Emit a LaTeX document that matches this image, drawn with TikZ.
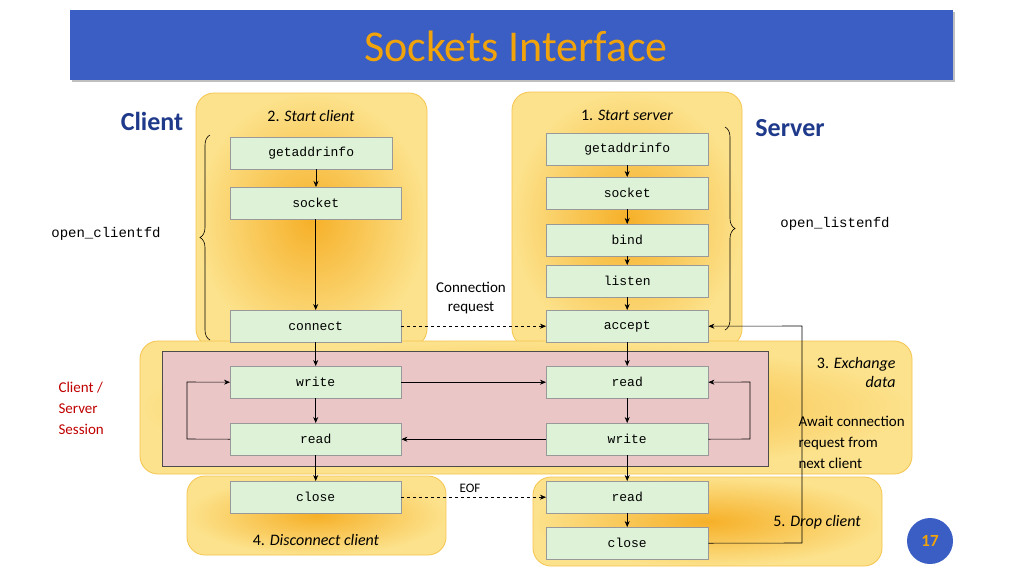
\documentclass[tikz,border=0pt]{standalone}
\usepackage{fontspec}
\setmainfont{Carlito}
\newfontfamily\monof{Liberation Mono}
\usetikzlibrary{decorations.pathreplacing,arrows.meta}
\definecolor{tbar}{HTML}{3A5EC4}
\definecolor{ttl}{HTML}{F0A30A}
\definecolor{cblue}{HTML}{1F3A8A}
\definecolor{boxg}{HTML}{DDF2D6}
\definecolor{pinkf}{HTML}{EBC6C6}
\definecolor{regb}{HTML}{F5C44E}
\definecolor{redt}{HTML}{C00000}
\tikzset{
 region/.style={rounded corners=18pt,draw=regb,line width=0.8pt,inner color={rgb,255:red,246;green,176;blue,40},outer color={rgb,255:red,252;green,226;blue,140}},
 fn/.style={draw=gray!80,fill=boxg,minimum width=162pt,minimum height=32pt,anchor=north west,inner sep=0pt,font=\monof\fontsize{13}{13}\selectfont},
 fnw/.style={fn,minimum width=171pt},
 fns/.style={fn,minimum width=162pt},
 arr/.style={-{Stealth[length=6pt,width=5pt]},line width=0.6pt},
 lbl/.style={font=\fontsize{16}{19}\selectfont},
}
\begin{document}
\begin{tikzpicture}[x=1pt,y=-1pt]
\useasboundingbox (0,0) rectangle (1024,576);
\fill[white] (0,0) rectangle (1024,576);
% title
\fill[black!25] (72,12) rectangle (955,82);
\node[fill=tbar,minimum width=883pt,minimum height=70pt,anchor=north west,inner sep=0pt] (bar) at (70,10) {};
\node[text=ttl,font=\fontsize{44}{44}\selectfont] (title) at (516,46) {Sockets Interface};
% regions
\path[region] (196,93) rectangle (427,347);
\path[region] (512,92) rectangle (742,347);
\path[region] (140,341) rectangle (912,474);
\path[region] (187,476) rectangle (446,555);
\path[region] (533,477) rectangle (882,566);
\node[draw=black!70,fill=pinkf,minimum width=606pt,minimum height=115pt,anchor=north west,inner sep=0pt] (pink) at (162,351) {};
% labels
\node[text=cblue,font=\bfseries\fontsize{26}{26}\selectfont] (cl) at (152,121) {Client};
\node[text=cblue,font=\bfseries\fontsize{26}{26}\selectfont] (sv) at (790,128) {Server};
\node[lbl] (sc) at (311,116) {2. \textit{Start client}};
\node[lbl] (ss) at (627,115) {1. \textit{Start server}};
\node[lbl,align=right,anchor=east] (ex) at (899,372) {3. \textit{Exchange}\\\textit{data}};
\node[font=\fontsize{15}{21}\selectfont,align=left,anchor=west] (aw) at (795,442) {Await connection\\request from\\next client};
\node[font=\fontsize{15}{21}\selectfont,text=redt,align=left,anchor=west] (css) at (55,408) {Client /\\Server\\Session};
\node[lbl] (dc) at (316,540) {4. \textit{Disconnect client}};
\node[lbl] (dr) at (817,522) {5. \textit{Drop client}};
\node[font=\fontsize{15}{19}\selectfont,align=center] (cr) at (471,298) {Connection\\request};
\node[font=\fontsize{13}{13}\selectfont] (eof) at (470,488) {EOF};
% client boxes
\node[fn] (cg) at (230,137) {getaddrinfo};
\node[fnw] (cs) at (230,187) {socket};
\node[fnw] (cc) at (230,310) {connect};
\node[fnw] (cw) at (230,366) {write};
\node[fnw] (cr2) at (230,423) {read};
\node[fnw] (ccl) at (230,481) {close};
% server boxes
\node[fn] (sg) at (546,133) {getaddrinfo};
\node[fn] (ssk) at (546,177) {socket};
\node[fn] (sb) at (546,224) {bind};
\node[fn] (sl) at (546,265) {listen};
\node[fn] (sa) at (546,310) {accept};
\node[fn] (sr) at (546,366) {read};
\node[fn] (sw) at (546,423) {write};
\node[fn] (sr2) at (546,481) {read};
\node[fn] (scl) at (546,527) {close};
% vertical arrows
\draw[arr] (316,169) -- (316,187);
\draw[arr] (cs.south) -- (cc.north);
\draw[arr] (cc.south) -- (cw.north);
\draw[arr] (cw.south) -- (cr2.north);
\draw[arr] (cr2.south) -- (ccl.north);
\draw[arr] (sg.south) -- (ssk.north);
\draw[arr] (ssk.south) -- (sb.north);
\draw[arr] (sb.south) -- (sl.north);
\draw[arr] (sl.south) -- (sa.north);
\draw[arr] (sa.south) -- (sr.north);
\draw[arr] (sr.south) -- (sw.north);
\draw[arr] (sw.south) -- (sr2.north);
\draw[arr] (sr2.south) -- (scl.north);
% horizontal
\draw[arr,dashed] (cc.east) -- (sa.west);
\draw[arr,dashed] (ccl.east) -- (sr2.west);
\draw[arr] (cw.east) -- (sr.west);
\draw[arr] (sw.west) -- (cr2.east);
\draw[arr] (cr2.west) -- (187,439) -- (187,382) -- (cw.west);
\draw[arr] (sw.east) -- (750,439) -- (750,382) -- (sr.east);
\draw[arr] (scl.east) -- (802,543) -- (802,326) -- (sa.east);
% braces
\draw[decorate,decoration={brace,amplitude=10pt},line width=0.6pt] (210,340) -- (210,135);
\draw[decorate,decoration={brace,amplitude=10pt},line width=0.6pt] (725,127) -- (725,330);
\node[font=\monof\fontsize{14}{14}\selectfont] (ocf) at (106,234) {open\_clientfd};
\node[font=\monof\fontsize{14}{14}\selectfont] (olf) at (835,224) {open\_listenfd};
% page number
\node[circle,fill=tbar,minimum size=46pt,inner sep=0pt,text=ttl,font=\bfseries\fontsize{17}{17}\selectfont] (pg) at (930,541) {17};
\end{tikzpicture}
\end{document}
